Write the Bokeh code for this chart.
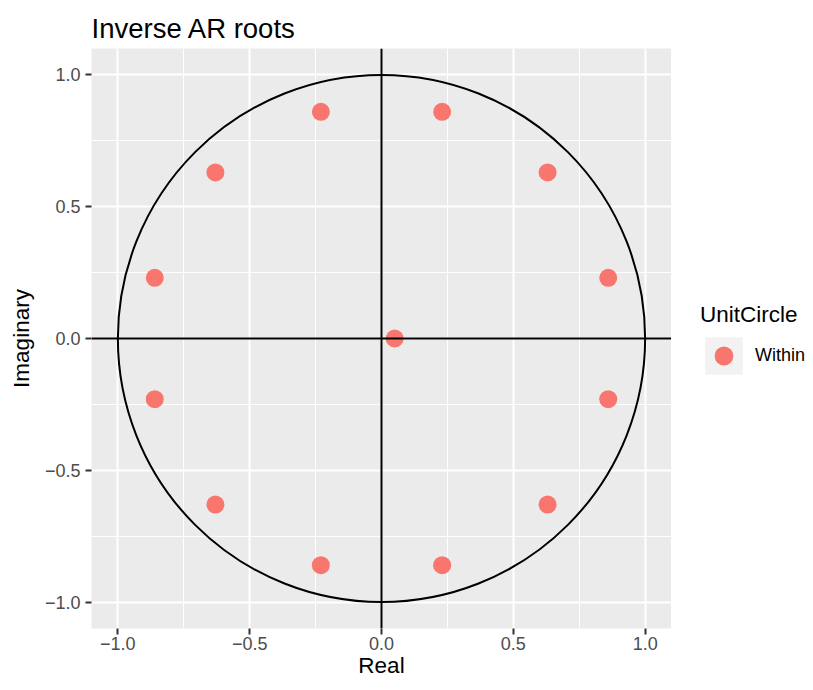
from bokeh.plotting import figure
from bokeh.models import (Range1d, Span, Legend, LegendItem, ColumnDataSource,
                          FixedTicker)
from bokeh.layouts import row
from bokeh.embed import file_html
from bokeh.resources import INLINE

# Inverse AR roots
root_re = [0.05, 0.86, 0.63, 0.23, -0.23, -0.63, -0.86, -0.86, -0.63, -0.23, 0.23, 0.63, 0.86]
root_im = [0.00, 0.23, 0.63, 0.86, 0.86, 0.63, 0.23, -0.23, -0.63, -0.86, -0.86, -0.63, -0.23]
unit_circle = ["Within"] * len(root_re)
legend_title = "UnitCircle"
major_ticks = [-1.0, -0.5, 0.0, 0.5, 1.0]
minor_ticks = [-0.75, -0.25, 0.25, 0.75]
tick_labels = {-1.0: "\u22121.0", -0.5: "\u22120.5", 0.0: "0.0", 0.5: "0.5", 1.0: "1.0"}

FONT = "Liberation Sans"
W, H = 813, 690
LEFT, TOP, PANEL = 91, 48, 580
MAIN_W = LEFT + PANEL
POINT_COLOR = "#F8766D"

p = figure(width=MAIN_W, height=H, output_backend="svg", toolbar_location=None,
           x_range=Range1d(-1.1, 1.1), y_range=Range1d(-1.1, 1.1),
           title="Inverse AR roots", x_axis_label="Real", y_axis_label="Imaginary",
           min_border_left=LEFT, min_border_top=TOP,
           min_border_right=0, min_border_bottom=H - TOP - PANEL)

p.background_fill_color = "#EBEBEB"
p.border_fill_color = "white"
p.outline_line_color = None

# title
p.title.text_font = FONT
p.title.text_font_size = "27.5px"
p.title.text_font_style = "normal"
p.title.text_color = "black"
p.title.align = "left"
p.title.offset = 0
p.title.standoff = 10

# grids
for g in (p.xgrid, p.ygrid):
    g.ticker = FixedTicker(ticks=major_ticks, minor_ticks=minor_ticks)
    g.grid_line_color = "white"
    g.grid_line_width = 2
    g.minor_grid_line_color = "white"
    g.minor_grid_line_width = 1

# axes
for ax in (p.xaxis[0], p.yaxis[0]):
    ax.ticker = FixedTicker(ticks=major_ticks)
    ax.major_label_overrides = tick_labels
    ax.axis_line_color = None
    ax.major_tick_line_color = "#333333"
    ax.major_tick_line_width = 2
    ax.major_tick_out = 6
    ax.major_tick_in = 0
    ax.minor_tick_line_color = None
    ax.major_label_text_font = FONT
    ax.major_label_text_font_size = "18px"
    ax.major_label_text_color = "#4D4D4D"
    ax.axis_label_text_font = FONT
    ax.axis_label_text_font_size = "22.5px"
    ax.axis_label_text_font_style = "normal"
    ax.axis_label_text_color = "black"
p.xaxis[0].major_label_standoff = 2
p.xaxis[0].axis_label_standoff = 0
p.yaxis[0].major_label_standoff = 5
p.yaxis[0].axis_label_standoff = 8
p.yaxis[0].major_label_orientation = "horizontal"

# unit circle and axes lines
p.circle(x=[0], y=[0], radius=[1.0], fill_color=None, line_color="black", line_width=2)
p.add_layout(Span(location=0, dimension="width", line_color="black", line_width=2))
p.add_layout(Span(location=0, dimension="height", line_color="black", line_width=2))

src = ColumnDataSource(dict(x=root_re, y=root_im, uc=unit_circle))
p.scatter("x", "y", source=src, size=18, fill_color=POINT_COLOR, line_color=None)

# ---- legend area (separate blank figure to the right) ----
lf = figure(width=W - MAIN_W, height=H, output_backend="svg", toolbar_location=None,
            x_axis_type=None, y_axis_type=None,
            x_range=Range1d(0, 1), y_range=Range1d(0, 1),
            min_border=0, outline_line_color=None)
lf.background_fill_color = "white"
lf.border_fill_color = "white"
lf.xgrid.visible = False
lf.ygrid.visible = False

nan = float("nan")
key_src = ColumnDataSource(dict(x=[nan], y=[nan]))
key_bg = lf.rect("x", "y", source=key_src, width=1, height=1,
                 fill_color="#F2F2F2", line_color=None)
key_pt = lf.scatter("x", "y", source=key_src, size=18,
                    fill_color=POINT_COLOR, line_color=None)

legend = Legend(items=[LegendItem(label=unit_circle[0], renderers=[key_bg, key_pt], index=0)],
                location=(29, 249), title=legend_title,
                glyph_width=47, glyph_height=47, label_standoff=8,
                padding=0, margin=0, spacing=0,
                border_line_color=None, background_fill_alpha=0,
                title_text_font=FONT, title_text_font_size="22.5px",
                title_text_font_style="normal", title_text_color="black",
                title_standoff=4,
                label_text_font=FONT, label_text_font_size="18px",
                label_text_color="black")
lf.add_layout(legend, "center")

layout = row(p, lf)
open("out.html", "w").write(file_html(layout, INLINE))
